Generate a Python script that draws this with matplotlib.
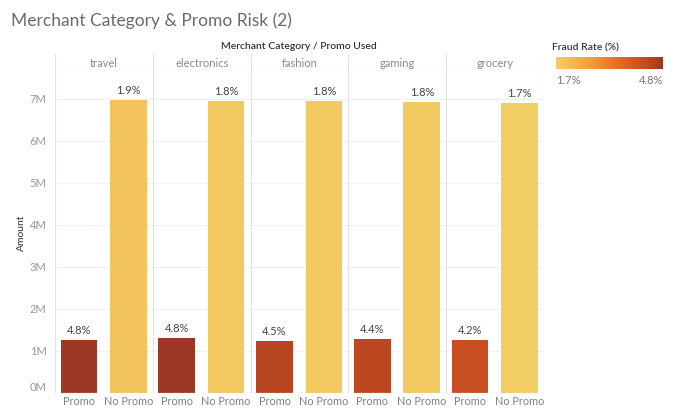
import matplotlib
matplotlib.use("Agg")
import matplotlib.pyplot as plt
import numpy as np
from matplotlib.colors import LinearSegmentedColormap, Normalize

plt.rcParams['font.family'] = ['Lato', 'DejaVu Sans']

# ---- data ----
categories = ["travel", "electronics", "fashion", "gaming", "grocery"]
promo_groups = ["Promo", "No Promo"]
promo_amount = [1.26e6, 1.30e6, 1.24e6, 1.28e6, 1.25e6]
no_promo_amount = [6.96e6, 6.94e6, 6.94e6, 6.92e6, 6.89e6]
promo_fraud = [4.8, 4.8, 4.5, 4.4, 4.2]
no_promo_fraud = [1.9, 1.8, 1.8, 1.8, 1.7]
y_ticks = [0, 1e6, 2e6, 3e6, 4e6, 5e6, 6e6, 7e6]
y_tick_labels = ["0M", "1M", "2M", "3M", "4M", "5M", "6M", "7M"]

W, H = 673, 408
fig = plt.figure(figsize=(W / 100, H / 100), dpi=100)


def fx(px):
    return px / W


def fy(py):
    return 1 - py / H


cmap = LinearSegmentedColormap.from_list(
    "fraud",
    [(0.0, "#f3cd66"), (0.3, "#f3a23c"), (0.55, "#e8712a"),
     (0.8, "#c94f22"), (0.9, "#b8451f"), (1.0, "#9c3825")])
norm = Normalize(vmin=1.7, vmax=4.8)

# ---- main panel area ----
left, right, top, bottom = 55, 544, 72, 393
ax = fig.add_axes([fx(left), fy(bottom), fx(right - left), (bottom - top) / H])
ymax = (bottom - top) / 42.07 * 1e6
ax.set_xlim(0, len(categories))
ax.set_ylim(0, ymax)

pos_offsets = [0.245, 0.75]
bar_w = 0.375
grid_c = "#f1f1f1"
line_c = "#e2e2e2"

for t in y_ticks[1:]:
    ax.axhline(t, color=grid_c, lw=0.8, zorder=0)

for i, cat in enumerate(categories):
    for j, (amt, fr) in enumerate([(promo_amount[i], promo_fraud[i]),
                                   (no_promo_amount[i], no_promo_fraud[i])]):
        x = i + pos_offsets[j]
        ax.bar(x, amt, width=bar_w, color=cmap(norm(fr)), zorder=2)
        ax.annotate(f"{fr:.1f}%", (x, amt), xytext=(0, 3),
                    textcoords="offset points", ha="center", va="bottom",
                    fontsize=8, color="#444444")
        ax.annotate(promo_groups[j], (x, 0), xytext=(0, -2.2),
                    textcoords="offset points", ha="center", va="top",
                    fontsize=7.8, color="#808080", annotation_clip=False)

for s in ax.spines.values():
    s.set_visible(False)
ax.axhline(0, color="#dddddd", lw=0.9, zorder=3)
for k in range(len(categories) + 1):
    ax.axvline(k, color=line_c, lw=0.8, zorder=1)

ax.set_xticks([])
ax.set_yticks(y_ticks)
ax.set_yticklabels(y_tick_labels, fontsize=8, color="#999999")
ax.get_yticklabels()[0].set_verticalalignment("bottom")
ax.tick_params(axis="y", length=0, pad=6)
ax.set_ylabel("Amount", fontsize=7.5, color="#333333", labelpad=3)

# ---- column header ----
hax = fig.add_axes([fx(left), fy(top), fx(right - left), (top - 54) / H])
hax.set_xlim(0, len(categories))
hax.set_ylim(0, 1)
hax.axis("off")
for k in range(len(categories) + 1):
    hax.plot([k, k], [0, 1], color=line_c, lw=0.8)
hax.plot([0, len(categories)], [0, 0], color=line_c, lw=0.8)
for i, cat in enumerate(categories):
    hax.text(i + 0.5, 0.45, cat, ha="center", va="center", fontsize=8, color="#8a8a8a")

fig.text(fx(299), fy(46.5), "Merchant Category / Promo Used", ha="center", va="center",
         fontsize=7.5, color="#333333", fontweight="semibold")

# ---- title ----
fig.text(fx(11), fy(21), "Merchant Category & Promo Risk (2)", ha="left", va="center",
         fontsize=12.5, color="#6a6a6a")

# ---- colour legend ----
fig.text(fx(552), fy(48), "Fraud Rate (%)", ha="left", va="center",
         fontsize=7.5, color="#333333", fontweight="semibold")
cax = fig.add_axes([fx(556), fy(69.5), fx(107), 13 / H])
grad = np.linspace(0, 1, 256).reshape(1, -1)
cax.imshow(grad, aspect="auto", cmap=cmap, extent=[0, 1, 0, 1])
cax.set_axis_off()
fig.text(fx(556), fy(80), f"{norm.vmin:.1f}%", ha="left", va="center", fontsize=8, color="#777777")
fig.text(fx(663), fy(80), f"{norm.vmax:.1f}%", ha="right", va="center", fontsize=8, color="#777777")

fig.savefig("out.png", dpi=100)
